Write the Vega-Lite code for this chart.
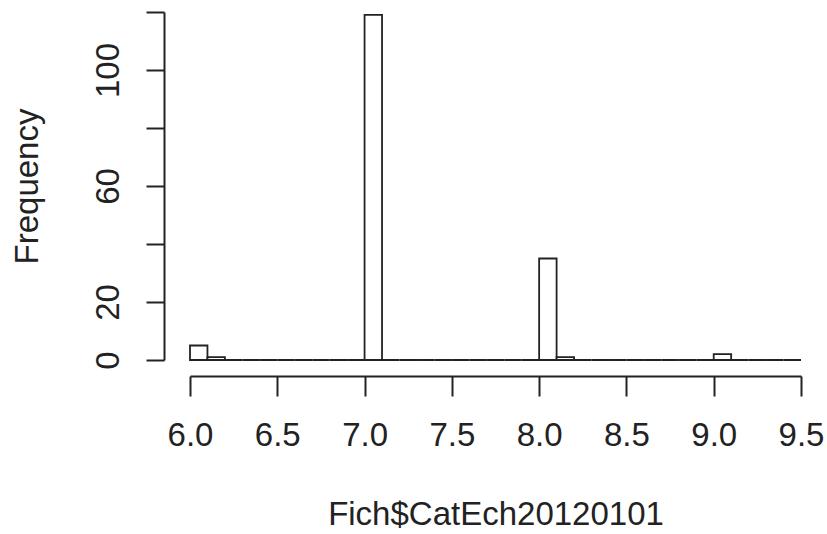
{
  "$schema": "https://vega.github.io/schema/vega-lite/v6.json",
  "autosize": {"type": "none"},
  "width": 611,
  "height": 348,
  "padding": {"left": 190, "top": 12, "right": 26, "bottom": 174},
  "background": "white",
  "config": {
    "view": {"stroke": null},
    "font": "Liberation Sans",
    "axis": {
      "domainColor": "#222",
      "domainWidth": 2,
      "tickColor": "#222",
      "tickWidth": 2,
      "grid": false,
      "labelFont": "Liberation Sans",
      "labelFontSize": 33,
      "labelColor": "#222",
      "titleFont": "Liberation Sans",
      "titleFontSize": 33,
      "titleFontWeight": "normal",
      "titleColor": "#222"
    }
  },
  "data": {
    "values": [
      {"start": 6.0, "end": 6.1, "count": 5},
      {"start": 6.1, "end": 6.2, "count": 1},
      {"start": 6.2, "end": 6.3, "count": 0},
      {"start": 6.3, "end": 6.4, "count": 0},
      {"start": 6.4, "end": 6.5, "count": 0},
      {"start": 6.5, "end": 6.6, "count": 0},
      {"start": 6.6, "end": 6.7, "count": 0},
      {"start": 6.7, "end": 6.8, "count": 0},
      {"start": 6.8, "end": 6.9, "count": 0},
      {"start": 6.9, "end": 7.0, "count": 0},
      {"start": 7.0, "end": 7.1, "count": 119},
      {"start": 7.1, "end": 7.2, "count": 0},
      {"start": 7.2, "end": 7.3, "count": 0},
      {"start": 7.3, "end": 7.4, "count": 0},
      {"start": 7.4, "end": 7.5, "count": 0},
      {"start": 7.5, "end": 7.6, "count": 0},
      {"start": 7.6, "end": 7.7, "count": 0},
      {"start": 7.7, "end": 7.8, "count": 0},
      {"start": 7.8, "end": 7.9, "count": 0},
      {"start": 7.9, "end": 8.0, "count": 0},
      {"start": 8.0, "end": 8.1, "count": 35},
      {"start": 8.1, "end": 8.2, "count": 1},
      {"start": 8.2, "end": 8.3, "count": 0},
      {"start": 8.3, "end": 8.4, "count": 0},
      {"start": 8.4, "end": 8.5, "count": 0},
      {"start": 8.5, "end": 8.6, "count": 0},
      {"start": 8.6, "end": 8.7, "count": 0},
      {"start": 8.7, "end": 8.8, "count": 0},
      {"start": 8.8, "end": 8.9, "count": 0},
      {"start": 8.9, "end": 9.0, "count": 0},
      {"start": 9.0, "end": 9.1, "count": 2},
      {"start": 9.1, "end": 9.2, "count": 0},
      {"start": 9.2, "end": 9.3, "count": 0},
      {"start": 9.3, "end": 9.4, "count": 0},
      {"start": 9.4, "end": 9.5, "count": 0}
    ]
  },
  "mark": {"type": "rect", "fill": "white", "stroke": "#222", "strokeWidth": 1.8},
  "encoding": {
    "x": {
      "field": "start",
      "type": "quantitative",
      "scale": {"domain": [6, 9.5], "nice": false, "zero": false},
      "axis": {
        "title": "Fich$CatEch20120101",
        "values": [6, 6.5, 7, 7.5, 8, 8.5, 9, 9.5],
        "format": ".1f",
        "offset": 16,
        "tickSize": 20,
        "labelPadding": 23,
        "labelBaseline": "top",
        "labelFlush": false,
        "labelOverlap": false,
        "titlePadding": 46
      }
    },
    "x2": {"field": "end"},
    "y": {
      "field": "count",
      "type": "quantitative",
      "scale": {"domain": [0, 120], "nice": false},
      "axis": {
        "title": "Frequency",
        "values": [0, 20, 40, 60, 80, 100, 120],
        "labelExpr": "datum.value == 40 || datum.value == 80 || datum.value == 120 ? '' : datum.label",
        "offset": 26,
        "tickSize": 18,
        "labelAngle": -90,
        "labelAlign": "center",
        "labelBaseline": "bottom",
        "labelPadding": 21,
        "labelFlush": false,
        "labelOverlap": false,
        "titlePadding": 48
      }
    },
    "y2": {"datum": 0}
  }
}
